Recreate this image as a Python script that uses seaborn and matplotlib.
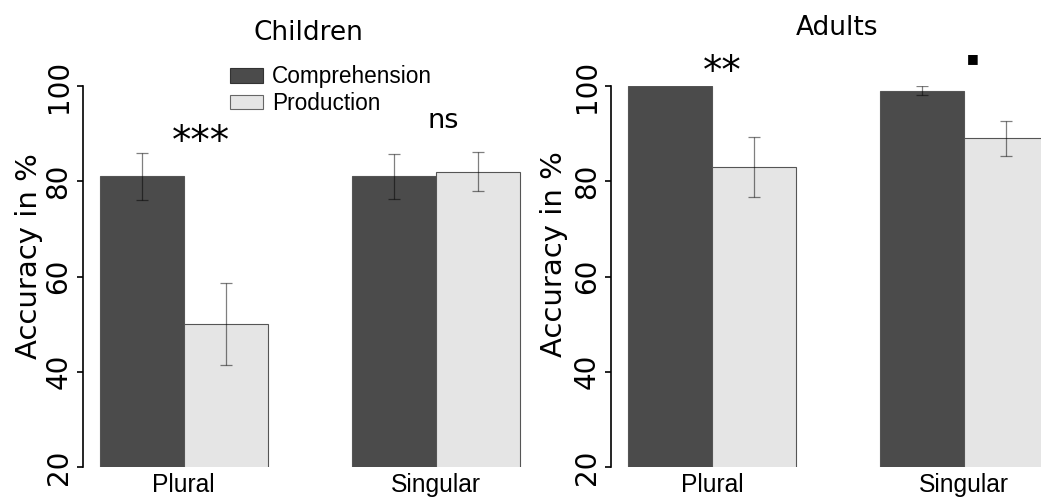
import matplotlib
matplotlib.use("Agg")
import matplotlib.pyplot as plt
from matplotlib.patches import Patch
import seaborn as sns
import pandas as pd
import numpy as np

# ---- data ----
numbers = ["Plural", "Singular"]
tasks = ["Comprehension", "Production"]
children_comp = [81, 81]
children_prod = [50, 82]
children_comp_err = [4.9, 4.7]
children_prod_err = [8.6, 4.1]
adults_comp = [100, 99]
adults_prod = [83, 89]
adults_comp_err = [0.0, 0.9]
adults_prod_err = [6.3, 3.7]
children_sig = ["***", "ns"]
adults_sig = ["**", "."]
yticks = [20, 40, 60, 80, 100]

DARK = "#4b4b4b"
LIGHT = "#e5e5e5"

sns.set_style("white")
plt.rcParams["font.family"] = ["DejaVu Sans"]
for k in ["text.color", "axes.labelcolor", "xtick.color", "ytick.color",
          "axes.edgecolor"]:
    plt.rcParams[k] = "black"

W, H = 1041, 497
fig = plt.figure(figsize=(W / 100, H / 100), dpi=100)

def fx(px):
    return px / W

def fy(py):
    return 1 - py / H

def make_df(comp, prod):
    return pd.DataFrame({
        "number": numbers * 2,
        "task": [tasks[0]] * 2 + [tasks[1]] * 2,
        "acc": list(comp) + list(prod),
    })

def panel(x0, x1, comp, prod, comp_err, prod_err):
    ax = fig.add_axes([fx(x0), fy(467), fx(x1) - fx(x0), (467 - 86) / H])
    df = make_df(comp, prod)
    sns.barplot(data=df, x="number", y="acc", hue="task", order=numbers,
                hue_order=tasks, palette=[DARK, LIGHT], width=2 / 3, gap=0,
                errorbar=None, edgecolor="#555555", linewidth=0.8,
                legend=False, ax=ax)
    for cont, errs in zip(ax.containers, [comp_err, prod_err]):
        xs = [b.get_x() + b.get_width() / 2 for b in cont]
        ys = [b.get_height() for b in cont]
        for xx, yy, ee in zip(xs, ys, errs):
            if ee > 0:
                ax.errorbar(xx, yy, yerr=ee, fmt="none", ecolor="black",
                            alpha=0.5, elinewidth=0.9, capsize=4.5,
                            capthick=0.9)
    unit = 252.0
    ax.set_xlim(-0.4, -0.4 + (x1 - x0) / unit)
    ax.set_ylim(20, 100)
    ax.set_yticks(yticks)
    ax.set_yticklabels([str(t) for t in yticks], rotation=90, va="center",
                       fontsize=20)
    ax.tick_params(axis="y", length=4.5, width=1.2, pad=3.0, left=True,
                   color="black", labelcolor="black")
    ax.tick_params(axis="x", length=0, pad=4, labelcolor="black")
    for lab in ax.get_xticklabels():
        lab.set_fontfamily("Liberation Sans")
        lab.set_fontsize(17.7)
    ax.set_xlabel("")
    ax.set_ylabel("")
    for s in ["top", "right", "bottom"]:
        ax.spines[s].set_visible(False)
    ax.spines["left"].set_linewidth(1.2)
    ax.spines["left"].set_color("black")
    ax.patch.set_alpha(0)
    return ax

axL = panel(83, 522, children_comp, children_prod,
            children_comp_err, children_prod_err)
axR = panel(611.2, 1041, adults_comp, adults_prod,
            adults_comp_err, adults_prod_err)

# titles
fig.text(fx(308), fy(40), "Children", ha="center", va="baseline", fontsize=19)
fig.text(fx(837), fy(35), "Adults", ha="center", va="baseline", fontsize=19)

# y labels
fig.text(fx(29.5), fy(256), "Accuracy in %", rotation=90, ha="center",
         va="center", fontsize=21)
fig.text(fx(554), fy(254), "Accuracy in %", rotation=90, ha="center",
         va="center", fontsize=21)

# significance markers
fig.text(fx(201), fy(153), children_sig[0], ha="center", va="baseline",
         fontsize=28)
fig.text(fx(443), fy(128), children_sig[1], ha="center", va="baseline",
         fontsize=19.5)
fig.text(fx(722), fy(83), adults_sig[0], ha="center", va="baseline",
         fontsize=28)
fig.text(fx(972.5), fy(59), "\u25a0", ha="center", va="center", fontsize=9)

# legend
handles = [Patch(facecolor=DARK, edgecolor="#333333", linewidth=0.8),
           Patch(facecolor=LIGHT, edgecolor="#666666", linewidth=0.8)]
axL.legend(handles, tasks, loc="upper left",
           bbox_to_anchor=(fx(230), fy(65.5)), bbox_transform=fig.transFigure,
           frameon=False, borderpad=0, borderaxespad=0, handlelength=1.47,
           handleheight=0.62, handletextpad=0.4, labelspacing=0.16,
           prop={"family": "Liberation Sans", "size": 16.3})

fig.savefig("out.png", dpi=100)
